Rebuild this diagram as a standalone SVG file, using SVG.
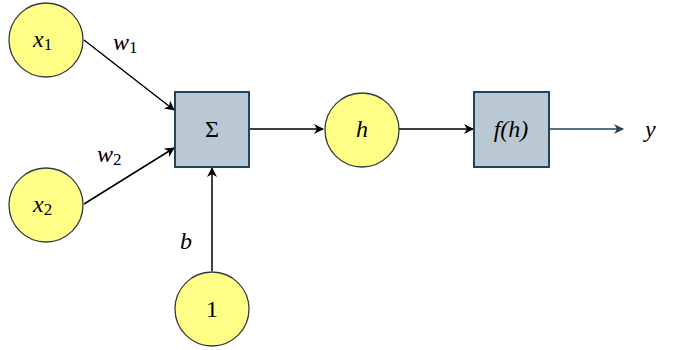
<svg xmlns="http://www.w3.org/2000/svg" width="688" height="350" viewBox="0 0 688 350">
<style>
.c{fill:#ffff88;stroke:#36393d;stroke-width:1.3}
.b{fill:#bac8d3;stroke:#23445d;stroke-width:2}
.e{stroke:#000;stroke-width:1.5;fill:none}
</style>
<defs>
<marker id="a" viewBox="0 0 10 10" refX="9" refY="5" markerWidth="10" markerHeight="10" markerUnits="userSpaceOnUse" orient="auto">
<path d="M0,0 L10,5 L0,10 L3,5 Z" fill="#000"/>
</marker>
<marker id="ab" viewBox="0 0 10 10" refX="9" refY="5" markerWidth="10" markerHeight="10" markerUnits="userSpaceOnUse" orient="auto">
<path d="M0,0 L10,5 L0,10 L3,5 Z" fill="#23445d"/>
</marker>
</defs>
<g font-family="Liberation Serif, serif" font-size="24" fill="#000">
<g id="connectors">
<line class="e" x1="84" y1="40" x2="174" y2="110" marker-end="url(#a)"/>
<line class="e" x1="84" y1="204" x2="174" y2="148" marker-end="url(#a)"/>
<line class="e" x1="212" y1="271" x2="212" y2="168" marker-end="url(#a)"/>
<line class="e" x1="249" y1="129" x2="323" y2="129" marker-end="url(#a)"/>
<line class="e" x1="399" y1="129" x2="473" y2="129" marker-end="url(#a)"/>
<line x1="549" y1="129" x2="623" y2="129" stroke="#23445d" stroke-width="1.5" marker-end="url(#ab)"/>
<text font-style="italic" x="113" y="50">w<tspan font-style="normal" font-size="17" dy="3">1</tspan></text>
<text font-style="italic" x="97" y="162">w<tspan font-style="normal" font-size="17" dy="3">2</tspan></text>
<text font-style="italic" x="180" y="249">b</text>
<text font-style="italic" x="645" y="137">y</text>
</g>
<g id="x1"><circle class="c" cx="46" cy="40" r="37"/><text font-style="italic" x="33" y="47">x<tspan font-style="normal" font-size="17" dy="3">1</tspan></text></g>
<g id="x2"><circle class="c" cx="46" cy="205" r="37"/><text font-style="italic" x="33" y="212">x<tspan font-style="normal" font-size="17" dy="3">2</tspan></text></g>
<g id="sum"><rect class="b" x="175" y="92" width="74" height="75"/><text x="212" y="137" text-anchor="middle">Σ</text></g>
<g id="h"><circle class="c" cx="362" cy="130" r="37"/><text font-style="italic" x="362" y="137" text-anchor="middle">h</text></g>
<g id="f"><rect class="b" x="474" y="92" width="75" height="75"/><text font-style="italic" x="511" y="137" text-anchor="middle">f(h)</text></g>
<g id="one"><circle class="c" cx="212" cy="309" r="37"/><text x="212" y="317" text-anchor="middle">1</text></g>
</g>
</svg>
